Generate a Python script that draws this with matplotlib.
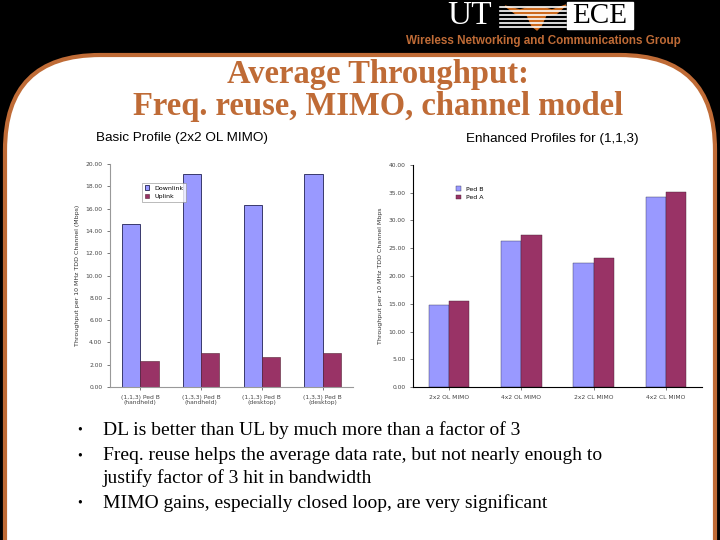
import matplotlib.pyplot as plt
import numpy as np
from matplotlib.patches import FancyBboxPatch, Rectangle, Polygon

# left chart: basic profile
basic_groups = ["(1,1,3) Ped B\n(handheld)", "(1,3,3) Ped B\n(handheld)",
                "(1,1,3) Ped B\n(desktop)", "(1,3,3) Ped B\n(desktop)"]
downlink = [14.6, 19.1, 16.3, 19.1]
uplink = [2.35, 3.03, 2.67, 3.03]

# right chart: enhanced profiles for (1,1,3)
enh_groups = ["2x2 OL MIMO", "4x2 OL MIMO", "2x2 CL MIMO", "4x2 CL MIMO"]
ped_b = [14.8, 26.3, 22.3, 34.2]
ped_a = [15.5, 27.3, 23.3, 35.2]

bullet_lines = [
    "DL is better than UL by much more than a factor of 3",
    "Freq. reuse helps the average data rate, but not nearly enough to",
    "justify factor of 3 hit in bandwidth",
    "MIMO gains, especially closed loop, are very significant",
]
bullet_marks = [True, True, False, True]

ORANGE = "#BF6B36"
LIGHT = "#9999FF"
MAROON = "#993366"

fig = plt.figure(figsize=(7.2, 5.4), dpi=100)
fig.patch.set_facecolor("black")

# slide background in pixel coordinates
bg = fig.add_axes([0, 0, 1, 1])
bg.set_xlim(0, 720)
bg.set_ylim(540, 0)
bg.axis("off")
bg.add_patch(FancyBboxPatch((5, 55), 710, 600,
                            boxstyle="round,pad=0,rounding_size=95",
                            facecolor="white", edgecolor=ORANGE, lw=3))

# header logo
bg.text(470, 16, "UT", color="white", family="Liberation Serif", fontsize=24,
        ha="center", va="center")
for yy in [7, 11, 15, 19, 23, 27]:
    bg.plot([500, 566], [yy, yy], color="white", lw=1.2)
bg.add_patch(Polygon([[505, 6], [520, 10], [527, 8], [545, 8], [552, 10], [566, 5],
                      [556, 14], [546, 15], [541, 26], [537, 30], [532, 26],
                      [527, 15], [516, 14]], closed=True, color="#CC6A1E"))
bg.add_patch(Rectangle((567, 2), 66, 27, color="white"))
bg.text(600, 16, "ECE", color="black", family="Liberation Serif", fontsize=21,
        ha="center", va="center")
bg.text(543, 41, "Wireless Networking and Communications Group", color=ORANGE,
        family="Liberation Sans", weight="bold", fontsize=8.4, ha="center", va="center")

# title
bg.text(378, 75, "Average Throughput:", color=ORANGE, family="Liberation Serif",
        weight="bold", fontsize=23.5, ha="center", va="center")
bg.text(378, 106, "Freq. reuse, MIMO, channel model", color=ORANGE,
        family="Liberation Serif", weight="bold", fontsize=23.5, ha="center", va="center")
bg.text(96, 138, "Basic Profile (2x2 OL MIMO)", color="black", family="Liberation Sans",
        fontsize=9.7, ha="left", va="center")
bg.text(466, 139, "Enhanced Profiles for (1,1,3)", color="black", family="Liberation Sans",
        fontsize=9.7, ha="left", va="center")

# bullets
ys = [430, 456, 478, 503]
for y, t, m in zip(ys, bullet_lines, bullet_marks):
    if m:
        bg.text(77, y, "\u2022", fontsize=10, family="Liberation Serif", va="center")
    bg.text(103, y, t, fontsize=14, family="Liberation Serif", va="center")


def style_axes(ax, spine_color):
    for s in ["top", "right"]:
        ax.spines[s].set_visible(False)
    for s in ["left", "bottom"]:
        ax.spines[s].set_color(spine_color)
        ax.spines[s].set_linewidth(0.8)
    ax.tick_params(labelsize=4.3, length=2, width=0.5, colors="#444444")
    ax.set_facecolor("white")


# left chart
ax1 = fig.add_axes([110 / 720, 1 - 387 / 540, 243 / 720, 223 / 540])
x = np.arange(len(basic_groups))
w = 0.3
ax1.bar(x - w / 2, downlink, w, color=LIGHT, edgecolor="#222255", lw=0.6, label="Downlink")
ax1.bar(x + w / 2, uplink, w, color=MAROON, edgecolor="#552233", lw=0.4, label="Uplink")
ax1.set_xlim(-0.5, 3.5)
ax1.set_ylim(0, 20)
ax1.set_yticks(np.arange(0, 21, 2))
ax1.set_yticklabels(["%.2f" % v for v in np.arange(0, 21, 2)])
ax1.set_xticks(x)
ax1.set_xticklabels(basic_groups)
ax1.set_ylabel("Throughput per 10 MHz TDD Channel (Mbps)", fontsize=4.5, color="#333333", labelpad=4)
style_axes(ax1, "#999999")
leg1 = ax1.legend(loc="upper left", bbox_to_anchor=(0.12, 0.93), fontsize=4.5,
                  frameon=True, fancybox=False, edgecolor="#888888",
                  handlelength=0.7, handleheight=0.7, borderpad=0.4, labelspacing=0.5)
leg1.get_frame().set_linewidth(0.5)

# right chart
ax2 = fig.add_axes([413 / 720, 1 - 387 / 540, 289 / 720, 222 / 540])
x = np.arange(len(enh_groups))
w = 0.28
ax2.bar(x - w / 2, ped_b, w, color=LIGHT, edgecolor="#333355", lw=0.3, label="Ped B")
ax2.bar(x + w / 2, ped_a, w, color=MAROON, edgecolor="#442233", lw=0.3, label="Ped A")
ax2.set_xlim(-0.5, 3.5)
ax2.set_ylim(0, 40)
ax2.set_yticks(np.arange(0, 41, 5))
ax2.set_yticklabels(["%.2f" % v for v in np.arange(0, 41, 5)])
ax2.set_xticks(x)
ax2.set_xticklabels(enh_groups)
ax2.set_ylabel("Throughput per 10 MHz TDD Channel Mbps", fontsize=4.5, color="#333333", labelpad=4)
style_axes(ax2, "black")
ax2.legend(loc="upper left", bbox_to_anchor=(0.13, 0.93), fontsize=4.5, frameon=False,
           handlelength=0.7, handleheight=0.7, labelspacing=0.5)

fig.savefig("out.png", dpi=100, facecolor=fig.get_facecolor())
